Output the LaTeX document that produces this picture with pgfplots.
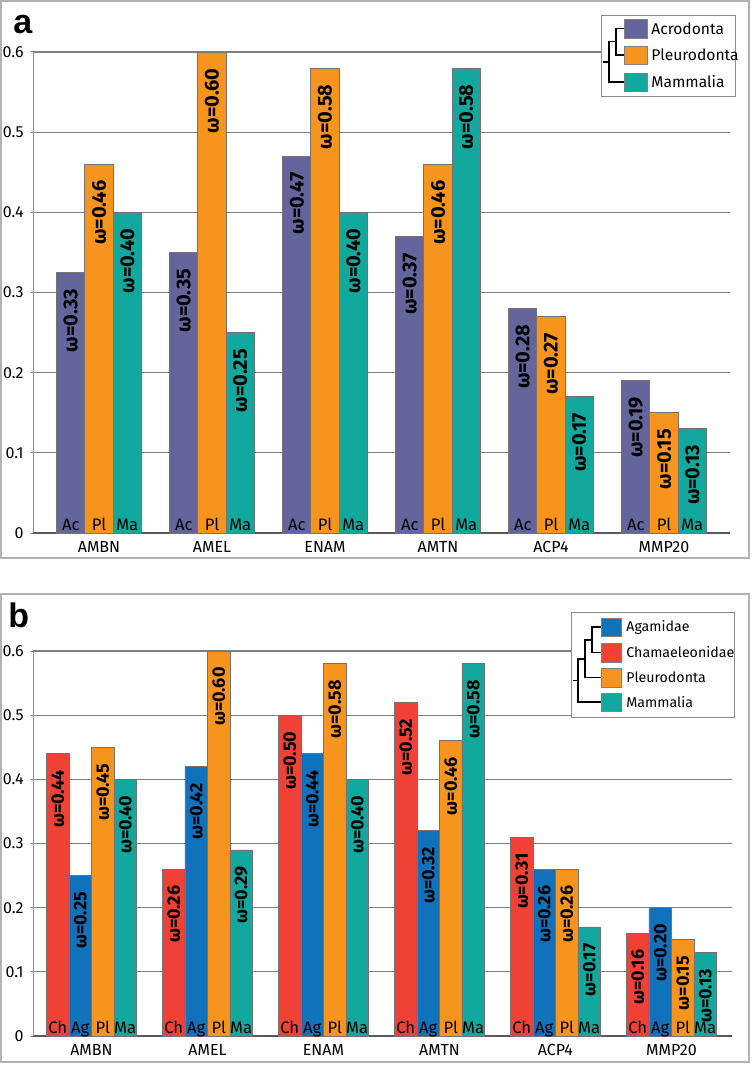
\documentclass[border=0pt]{standalone}
\usepackage{pgfplots}
\pgfplotsset{compat=1.18}
\usepackage{fontspec}
\setmainfont{Fira Sans}
\newfontfamily\panelfont{Liberation Sans}
\definecolor{cAc}{RGB}{100,101,155}
\definecolor{cPl}{RGB}{247,148,30}
\definecolor{cMa}{RGB}{18,168,157}
\definecolor{cCh}{RGB}{239,65,54}
\definecolor{cAg}{RGB}{16,114,187}
\pgfplotsset{
  omega/.style={nodes near coords={ω=\pgfmathprintnumber[fixed,fixed zerofill,precision=2]{\pgfplotspointmeta}},
    every node near coord/.append style={rotate=90,anchor=east,inner sep=0pt,xshift=-8pt,text=black,font=\bfseries\fontsize{#1}{#1}\selectfont}},
  basel/.style={draw=none,fill=none,forget plot,nodes near coords={#1},
    every node near coord/.append style={anchor=base,inner sep=0pt,yshift=1.3pt,text=black,font=\fontsize{8.3}{8.3}\selectfont}},
  mybars/.style={draw=black!55,line width=0.4pt,fill=#1},
  panel/.style={
    scale only axis, anchor=south west, clip=false,
    ymin=0, ymax=0.6, ybar,
    axis x line=bottom, axis y line=left, axis line style={-},
    x axis line style={black!65,line width=0.9pt},
    y axis line style={black!45,line width=0.5pt},
    ytick={0,0.1,0.2,0.3,0.4,0.5,0.6},
    yticklabels={0,0.1,0.2,0.3,0.4,0.5,0.6},
    xtick={0,1,2,3,4,5},
    xticklabels={AMBN,AMEL,ENAM,AMTN,ACP4,MMP20},
    x tick style={draw=none},
    y tick style={draw=black!50,line width=0.5pt},
    tick align=outside, major tick length=1.2pt,
    tick label style={font=\fontsize{8}{8}\selectfont},
    xticklabel style={yshift=0.5pt},
    /pgf/number format/assume math mode=true,
    ymajorgrids, grid style={black!50,line width=0.6pt},
  },
}
\begin{document}
\begin{tikzpicture}
\useasboundingbox (0,0) rectangle (375.5pt,-532.5pt);
\fill[white] (0,0) rectangle (375.5pt,-532.5pt);
\begin{scope}[x=0.5pt,y=-0.5pt]
\draw[black!30,line width=0.9pt] (1,1) rectangle (749,558);
\draw[black!30,line width=0.9pt] (1,594) rectangle (749,1062);
\end{scope}

% ---------------- panel a ----------------
\begin{axis}[panel, at={(16.5pt,-266.5pt)}, width=348.5pt, height=240.5pt,
  xmin=-0.584, xmax=5.584, bar width=0.25]
\addplot[mybars=cAc, bar shift=-0.25, omega=10, point meta=explicit] coordinates
  {(0,0.325) [0.33] (1,0.35) [0.35] (2,0.47) [0.47] (3,0.37) [0.37] (4,0.28) [0.28] (5,0.19) [0.19]};
\addplot[mybars=cPl, bar shift=0, omega=10] coordinates
  {(0,0.46) (1,0.60) (2,0.58) (3,0.46) (4,0.27) (5,0.15)};
\addplot[mybars=cMa, bar shift=0.25, omega=10] coordinates
  {(0,0.40) (1,0.25) (2,0.40) (3,0.58) (4,0.17) (5,0.13)};
\addplot[basel=Ac, bar shift=-0.25] coordinates {(0,0) (1,0) (2,0) (3,0) (4,0) (5,0)};
\addplot[basel=Pl, bar shift=0] coordinates {(0,0) (1,0) (2,0) (3,0) (4,0) (5,0)};
\addplot[basel=Ma, bar shift=0.25] coordinates {(0,0) (1,0) (2,0) (3,0) (4,0) (5,0)};
\end{axis}

% ---------------- panel b ----------------
\begin{axis}[panel, at={(16.5pt,-518pt)}, width=349.5pt, height=192.5pt,
  xmin=-0.504, xmax=5.522, bar width=0.194]
\addplot[mybars=cCh, bar shift=-0.291, omega=9] coordinates
  {(0,0.44) (1,0.26) (2,0.50) (3,0.52) (4,0.31) (5,0.16)};
\addplot[mybars=cAg, bar shift=-0.097, omega=9] coordinates
  {(0,0.25) (1,0.42) (2,0.44) (3,0.32) (4,0.26) (5,0.20)};
\addplot[mybars=cPl, bar shift=0.097, omega=9] coordinates
  {(0,0.45) (1,0.60) (2,0.58) (3,0.46) (4,0.26) (5,0.15)};
\addplot[mybars=cMa, bar shift=0.291, omega=9] coordinates
  {(0,0.40) (1,0.29) (2,0.40) (3,0.58) (4,0.17) (5,0.13)};
\addplot[basel=Ch, bar shift=-0.291] coordinates {(0,0) (1,0) (2,0) (3,0) (4,0) (5,0)};
\addplot[basel=Ag, bar shift=-0.097] coordinates {(0,0) (1,0) (2,0) (3,0) (4,0) (5,0)};
\addplot[basel=Pl, bar shift=0.097] coordinates {(0,0) (1,0) (2,0) (3,0) (4,0) (5,0)};
\addplot[basel=Ma, bar shift=0.291] coordinates {(0,0) (1,0) (2,0) (3,0) (4,0) (5,0)};
\end{axis}

\begin{scope}[x=0.5pt,y=-0.5pt]
% panel letters
\node[anchor=base west,inner sep=0pt,font=\panelfont\bfseries\fontsize{17}{17}\selectfont] at (13,34) {a};
\node[anchor=base west,inner sep=0pt,font=\panelfont\bfseries\fontsize{17}{17}\selectfont] at (8,627) {b};
% legend a
\draw[black!45,fill=white,line width=0.5pt] (601,16) rectangle (735,97);
\draw[black!50,line width=0.3pt,fill=cAc] (624,19) rectangle (647,38);
\draw[black!50,line width=0.3pt,fill=cPl] (624,46) rectangle (647,64);
\draw[black!50,line width=0.3pt,fill=cMa] (624,73) rectangle (647,91);
\begin{scope}[every node/.style={anchor=west,inner sep=0pt,font=\fontsize{7.8}{8}\selectfont}]
\node at (651,28.5) {Acrodonta};
\node at (651,55) {Pleurodonta};
\node at (651,82) {Mammalia};
\end{scope}
\draw[black,line width=0.65pt] (624,28.5) -- (616,28.5) -- (616,55) -- (624,55);
\draw[black,line width=0.65pt] (616,41.75) -- (609,41.75) -- (609,82) -- (624,82);
\draw[black,line width=0.65pt] (609,62) -- (603,62);
% legend b
\draw[black!45,fill=white,line width=0.5pt] (571,612) rectangle (734,717);
\draw[black!50,line width=0.3pt,fill=cAg] (601,618) rectangle (621,636);
\draw[black!50,line width=0.3pt,fill=cCh] (601,643) rectangle (621,662);
\draw[black!50,line width=0.3pt,fill=cPl] (601,668) rectangle (621,687);
\draw[black!50,line width=0.3pt,fill=cMa] (601,693) rectangle (621,711);
\begin{scope}[every node/.style={anchor=west,inner sep=0pt,font=\fontsize{7.1}{8}\selectfont}]
\node at (626,627) {Agamidae};
\node at (626,652.5) {Chamaeleonidae};
\node at (626,677.5) {Pleurodonta};
\node at (626,702) {Mammalia};
\end{scope}
\draw[black,line width=0.65pt] (601,627) -- (592,627) -- (592,652.5) -- (601,652.5);
\draw[black,line width=0.65pt] (592,640) -- (585,640) -- (585,677.5) -- (601,677.5);
\draw[black,line width=0.65pt] (585,659) -- (578,659) -- (578,702) -- (601,702);
\draw[black,line width=0.65pt] (578,680.5) -- (573,680.5);
\end{scope}
\end{tikzpicture}
\end{document}
